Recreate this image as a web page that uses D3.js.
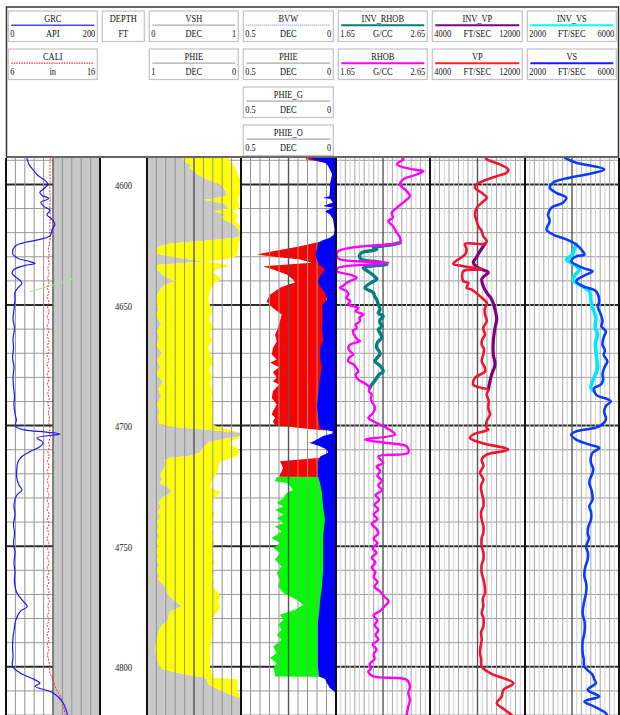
<!DOCTYPE html>
<html>
<head>
<meta charset="utf-8">
<script src="https://cdn.jsdelivr.net/npm/d3@7"></script>
<style>
  html, body { margin: 0; padding: 0; background: #fff; }
  svg { display: block; font-family: "Liberation Serif", "Times New Roman", serif; }
</style>
</head>
<body>
<svg id="log" width="620" height="715"></svg>
<script>
// ---------- curve headers ----------
const curveNames  = ["GRC", "CALI", "VSH", "PHIE", "BVW", "PHIE", "PHIE_G", "PHIE_O", "INV_RHOB", "RHOB", "INV_VP", "VP", "INV_VS", "VS"];
const curveUnits  = ["API", "in", "DEC", "DEC", "DEC", "DEC", "DEC", "DEC", "G/CC", "G/CC", "FT/SEC", "FT/SEC", "FT/SEC", "FT/SEC"];
const scaleLeft   = [0, 6, 0, 1, 0.5, 0.5, 0.5, 0.5, 1.65, 1.65, 4000, 4000, 2000, 2000];
const scaleRight  = [200, 16, 1, 0, 0, 0, 0, 0, 2.65, 2.65, 12000, 12000, 6000, 6000];

// ---------- depth ----------
const depthRange  = [4589.25, 4820.2];
const depthLabels = [4600, 4650, 4700, 4750, 4800];

// ---------- track 1 : gamma ray / caliper  [depth, value] ----------
const grc = [[4589.3,44],[4589.8,45],[4591.9,49],[4594.0,57],[4596.5,68],[4598.5,83],[4600.2,89],[4601.9,81],[4603.5,72],[4604.8,77],[4606.0,91],[4607.7,74],[4609.3,81],[4611.0,94],[4612.7,87],[4614.7,98],[4616.8,104],[4618.9,98],[4621.4,94],[4623.0,72],[4624.3,40],[4625.5,21],[4627.2,15],[4629.3,15],[4630.9,26],[4632.2,51],[4633.0,62],[4633.8,40],[4635.5,17],[4637.1,13],[4638.4,19],[4640.0,30],[4641.3,34],[4642.9,26],[4645.0,19],[4647.9,19],[4652,17],[4656,15],[4660,18],[4664,15],[4668,16],[4672,14],[4676,17],[4680,15],[4684,16],[4688,18],[4692,17],[4696,20],[4698,22],[4700.5,20],[4702.0,40],[4702.9,85],[4703.7,115],[4705.3,66],[4707.2,79],[4709,72],[4711,51],[4713,34],[4715,26],[4718,23],[4722,23],[4725,28],[4727,34],[4729,23],[4733,17],[4737,19],[4741,16],[4745,18],[4749,16],[4753,19],[4757,17],[4761,19],[4765,18],[4769.5,23],[4773.1,37],[4775.2,45],[4777.3,30],[4780.7,21],[4784,18],[4788,15],[4792,14],[4796,15],[4800,14],[4802.8,30],[4805,55],[4807,72],[4808.3,62],[4811,100],[4815,121],[4819.5,130],[4820.2,131]];

const cali = [[4589.3,10.7],[4594,10.68],[4598,10.7],[4602,10.66],[4606,10.7],[4610,10.67],[4614,10.7],[4618,10.66],[4622,10.68],[4625,10.62],[4627,10.5],[4629,10.6],[4631,10.48],[4633,10.6],[4635,10.45],[4637,10.58],[4639,10.44],[4641,10.56],[4643,10.42],[4645,10.55],[4647,10.4],[4649,10.55],[4651,10.42],[4653,10.58],[4655,10.4],[4657,10.55],[4659,10.38],[4661,10.55],[4663,10.4],[4665,10.57],[4667,10.42],[4669,10.58],[4671,10.4],[4673,10.55],[4675,10.38],[4677,10.56],[4679,10.4],[4681,10.55],[4683,10.42],[4685,10.58],[4687,10.44],[4689,10.6],[4691,10.45],[4693,10.6],[4695,10.5],[4697,10.62],[4699,10.55],[4701,10.68],[4703,10.62],[4705,10.7],[4707,10.55],[4709,10.62],[4711,10.45],[4713,10.6],[4715,10.42],[4717,10.58],[4719,10.4],[4721,10.56],[4723,10.38],[4725,10.55],[4727,10.4],[4729,10.57],[4731,10.38],[4733,10.55],[4735,10.4],[4737,10.56],[4739,10.42],[4741,10.58],[4743,10.4],[4745,10.55],[4747,10.38],[4749,10.56],[4751,10.4],[4753,10.57],[4755,10.42],[4757,10.58],[4759,10.4],[4761,10.55],[4763,10.38],[4765,10.56],[4767,10.4],[4769,10.58],[4771,10.44],[4773,10.6],[4775,10.45],[4777,10.58],[4779,10.42],[4781,10.56],[4783,10.4],[4785,10.55],[4787,10.38],[4789,10.55],[4791,10.4],[4793,10.56],[4795,10.42],[4797,10.5],[4799,10.6],[4801.4,10.62],[4803,10.7],[4805.6,11.0],[4807.5,11.15],[4809.8,11.4],[4813.1,11.85],[4816.7,12.1],[4820.2,12.3]];

// short correlation tie drawn on the gamma-ray scale
const tieLine = [[4644.7,51],[4639.1,149]];

// ---------- track 3 : shale volume / effective porosity ----------
const vsh = [[4589.2,0.38],[4589.8,0.39],[4591.1,0.41],[4592.3,0.48],[4593.2,0.44],[4594.4,0.49],[4596.1,0.54],[4597.7,0.62],[4599.4,0.72],[4601.0,0.80],[4603.1,0.84],[4604.8,0.85],[4606.0,0.72],[4606.6,0.60],[4607.3,0.72],[4608.5,0.84],[4610.2,0.86],[4611.4,0.71],[4612.7,0.84],[4613.9,0.78],[4615.6,0.86],[4617.6,0.95],[4620.1,0.99],[4622.2,0.97],[4623.4,0.67],[4624.7,0.24],[4625.9,0.12],[4627.2,0.10],[4628.8,0.11],[4630.1,0.24],[4631.3,0.46],[4632.2,0.62],[4633.0,0.30],[4633.6,0.10],[4635.5,0.10],[4637.6,0.16],[4639.2,0.24],[4640.5,0.29],[4641.7,0.19],[4643.8,0.14],[4645.9,0.11],[4648.8,0.10],[4652,0.12],[4655,0.10],[4658,0.15],[4661,0.11],[4664,0.13],[4667,0.10],[4670,0.16],[4673,0.11],[4676,0.14],[4679,0.10],[4682,0.17],[4685,0.12],[4688,0.15],[4691,0.11],[4694,0.13],[4697,0.12],[4699.2,0.13],[4700.5,0.20],[4701.8,0.60],[4703.2,1.0],[4704.5,1.0],[4705.5,0.85],[4707,0.66],[4708.5,0.62],[4710,0.58],[4711.5,0.56],[4712.8,0.45],[4713.5,0.25],[4714.5,0.18],[4716,0.20],[4718.5,0.17],[4720.5,0.14],[4722.6,0.16],[4724,0.13],[4725.7,0.22],[4727.7,0.27],[4729.8,0.17],[4732,0.12],[4734,0.15],[4736,0.11],[4738,0.14],[4740,0.10],[4742,0.13],[4744,0.10],[4746,0.13],[4748,0.10],[4750,0.12],[4752,0.09],[4754,0.12],[4756,0.10],[4758,0.13],[4760,0.10],[4762,0.13],[4764,0.12],[4766,0.17],[4768,0.20],[4770,0.22],[4772.4,0.28],[4775.2,0.37],[4777.3,0.24],[4779,0.23],[4780.7,0.22],[4783,0.16],[4784.8,0.13],[4787.7,0.11],[4791,0.09],[4794.4,0.09],[4796.5,0.10],[4798.5,0.12],[4801,0.15],[4803,0.35],[4804.5,0.60],[4805.5,0.64],[4807.5,0.65],[4810,0.78],[4812.2,0.92],[4813.3,1.0],[4820.3,1.0]];

const phie = [[4589.2,0.14],[4589.8,0.13],[4591.5,0.10],[4593.2,0.06],[4594.4,0.05],[4596.1,0.03],[4598.1,0.01],[4602,0.01],[4604.8,0.01],[4606.4,0.04],[4608.5,0.02],[4610.2,0.02],[4611.4,0.085],[4612.7,0.04],[4613.9,0.04],[4615.2,0.064],[4617.3,0.01],[4619,0.0],[4623,0.0],[4624.7,0.03],[4626,0.03],[4628.8,0.035],[4630,0.05],[4631.3,0.17],[4632.2,0.36],[4633.4,0.17],[4634.1,0.128],[4635.5,0.266],[4636.8,0.298],[4638.3,0.245],[4639.6,0.213],[4641.3,0.287],[4643.1,0.319],[4644.7,0.33],[4648,0.35],[4650,0.33],[4653,0.31],[4656,0.34],[4659,0.30],[4662,0.33],[4665,0.31],[4668,0.35],[4671,0.32],[4674,0.30],[4677,0.34],[4680,0.31],[4683,0.33],[4686,0.30],[4689,0.32],[4692,0.29],[4695,0.31],[4698,0.30],[4699.5,0.30],[4700.8,0.25],[4702,0.12],[4703.2,0.0],[4704.5,0.0],[4705.5,0.03],[4706.5,0.10],[4708,0.12],[4709.2,0.05],[4710.5,0.02],[4712.5,0.03],[4714,0.12],[4715,0.22],[4717,0.24],[4719,0.245],[4722.6,0.30],[4725.7,0.33],[4727.7,0.22],[4731,0.30],[4735,0.31],[4737,0.28],[4739,0.31],[4741,0.29],[4743,0.32],[4745,0.29],[4747,0.31],[4749,0.28],[4751,0.31],[4753,0.29],[4755,0.31],[4757,0.28],[4759,0.31],[4761,0.29],[4763,0.31],[4765,0.29],[4767,0.30],[4770.5,0.22],[4773,0.245],[4775.5,0.22],[4780,0.30],[4787,0.31],[4794,0.33],[4800.5,0.33],[4804.8,0.30],[4805.4,0.04],[4810,0.04],[4813.3,0.0],[4820.3,0.0]];

// ---------- track 4 : bulk volume water and hydrocarbon porosity ----------
const bvw = [[4589.2,0.13],[4589.8,0.128],[4591.2,0.058],[4592.5,0.042],[4594,0.032],[4596,0.021],[4598,0.026],[4600,0.032],[4603,0.032],[4605.1,0.035],[4605.7,0.068],[4606.3,0.03],[4607.7,0.016],[4609.2,0.068],[4609.9,0.016],[4611.3,0.058],[4612.7,0.032],[4614.5,0.016],[4617,0.011],[4619,0.008],[4621,0.011],[4622.3,0.032],[4623.5,0.074],[4624.6,0.095],[4627.2,0.10],[4629.3,0.11],[4631.3,0.10],[4633.4,0.089],[4635.5,0.058],[4638.2,0.084],[4640.3,0.095],[4642.4,0.084],[4645.1,0.058],[4648,0.047],[4650.5,0.074],[4655,0.07],[4660,0.074],[4665,0.068],[4668,0.084],[4672,0.084],[4676,0.074],[4680,0.084],[4684,0.089],[4688,0.095],[4692,0.10],[4696,0.095],[4699,0.089],[4701.5,0.084],[4702.6,0.016],[4703.5,0.02],[4704.5,0.068],[4706,0.10],[4707.4,0.137],[4708.8,0.084],[4710.2,0.047],[4711.5,0.042],[4713,0.084],[4715.7,0.095],[4718.5,0.095],[4721,0.095],[4724,0.084],[4728,0.074],[4734,0.068],[4739,0.058],[4746,0.068],[4752,0.068],[4760,0.068],[4767,0.074],[4773,0.084],[4778,0.089],[4782,0.095],[4790,0.095],[4800,0.095],[4804.2,0.089],[4805.3,0.058],[4807,0.047],[4809,0.032],[4810.8,0.005],[4812,0.0],[4820.3,0.0]];

const phieO = [[4589.2,0.16],[4589.8,0.158],[4591.2,0.06],[4592,0],[4623,0],[4623.4,0.03],[4624.0,0.084],[4625.8,0.189],[4627.9,0.332],[4629.3,0.417],[4630.0,0.347],[4631.3,0.189],[4632.7,0.128],[4634.1,0.383],[4635.5,0.332],[4637.6,0.259],[4639.6,0.226],[4641.0,0.216],[4641.7,0.25],[4643.1,0.295],[4645.9,0.347],[4648.6,0.365],[4651.4,0.332],[4654.1,0.286],[4656.9,0.295],[4659.7,0.305],[4662.5,0.321],[4665.2,0.312],[4668,0.332],[4670.7,0.338],[4672.8,0.312],[4674,0.347],[4676,0.30],[4678,0.332],[4680.4,0.312],[4681.8,0.332],[4683.2,0.30],[4686,0.332],[4688.8,0.338],[4691.5,0.312],[4694.3,0.332],[4695.6,0.338],[4697,0.32],[4698.4,0.332],[4700,0.321],[4701.2,0.19],[4702,0.09],[4702.3,0],[4706.5,0],[4707.2,0.155],[4707.8,0],[4712.5,0],[4713.3,0.05],[4714.3,0.189],[4715,0.295],[4716.4,0.286],[4717.7,0.279],[4719.2,0.286],[4720.5,0.295],[4721.4,0.30],[4721.5,0],[4820.3,0]];

const phieG = [[4589.2,0],[4721.4,0],[4721.5,0.312],[4723.3,0.321],[4724.0,0.259],[4725.4,0.242],[4726.8,0.225],[4728.1,0.259],[4730.2,0.277],[4732.3,0.312],[4733.7,0.277],[4735.1,0.321],[4737.1,0.277],[4738.5,0.312],[4740.6,0.277],[4742.0,0.321],[4744.1,0.286],[4746.8,0.338],[4748.9,0.295],[4751.0,0.33],[4753.0,0.295],[4755.8,0.321],[4758.6,0.286],[4761.3,0.312],[4764.1,0.295],[4766.9,0.304],[4769.6,0.277],[4772.4,0.207],[4774.5,0.172],[4776.6,0.216],[4778.6,0.295],[4780.7,0.277],[4782.8,0.304],[4784.9,0.286],[4787.0,0.312],[4789.0,0.286],[4791.8,0.33],[4794.5,0.312],[4796.6,0.347],[4798.7,0.312],[4800.8,0.33],[4802.8,0.321],[4804.2,0.321],[4804.4,0],[4820.3,0]];

// ---------- track 5 : bulk density ----------
const rhob = [[4589.2,2.36],[4589.8,2.366],[4591.9,2.296],[4594.0,2.469],[4594.7,2.579],[4596.1,2.509],[4598.1,2.366],[4600.2,2.331],[4603.0,2.402],[4605.1,2.437],[4607.1,2.384],[4609.9,2.296],[4612.0,2.243],[4614.0,2.256],[4615.4,2.206],[4617.5,2.256],[4620.2,2.296],[4622.3,2.331],[4624.4,2.331],[4625.1,2.19],[4626.5,1.80],[4627.9,1.674],[4630.0,1.657],[4631.3,1.693],[4632.7,2.206],[4633.4,2.01],[4634.8,1.674],[4636.2,1.657],[4637.6,1.80],[4638.9,1.87],[4640.3,1.80],[4641.0,1.764],[4642.4,1.72],[4643.1,1.693],[4644.5,1.764],[4645.9,1.781],[4647.2,1.76],[4648.6,1.80],[4650,1.78],[4651.4,1.887],[4652.8,1.86],[4654.1,1.94],[4655.5,1.90],[4656.9,1.905],[4658.3,1.86],[4659.7,1.87],[4661,1.83],[4663.2,1.852],[4664.5,1.88],[4665.2,1.905],[4666.6,1.80],[4668,1.781],[4669.4,1.80],[4670.7,1.834],[4672,1.79],[4673.5,1.781],[4674.9,1.84],[4675.6,1.852],[4677.7,1.887],[4679,1.86],[4680.4,1.87],[4681.5,1.90],[4683.2,1.977],[4684.6,2.01],[4686.0,2.00],[4687.3,2.03],[4688.8,2.02],[4690.1,2.03],[4692.9,2.065],[4695.6,2.03],[4697.0,1.994],[4698.4,2.047],[4699.8,2.118],[4701.2,2.19],[4703.9,2.278],[4706.0,1.958],[4707.4,2.19],[4708.8,2.402],[4711.5,2.419],[4713.0,2.10],[4715.7,2.153],[4717.1,2.083],[4719,2.12],[4721,2.09],[4723,2.14],[4725,2.10],[4727,2.14],[4729,2.07],[4731,2.11],[4733,2.06],[4735,2.10],[4737,2.05],[4739,2.09],[4741,2.03],[4743,2.08],[4745,2.10],[4747,2.05],[4749,2.09],[4751,2.04],[4753,2.08],[4755,2.03],[4757,2.07],[4759,2.03],[4761,2.07],[4763,2.05],[4765,2.09],[4767,2.06],[4769,2.12],[4771,2.16],[4773,2.21],[4775,2.17],[4777,2.12],[4779,2.05],[4781,2.09],[4783,2.06],[4785,2.10],[4787,2.07],[4789,2.10],[4791,2.04],[4793,2.08],[4795,2.05],[4797,2.06],[4799,2.01],[4801,2.02],[4802.2,1.994],[4804.2,2.047],[4805.6,2.402],[4808.4,2.437],[4811.1,2.419],[4813.9,2.437],[4816.7,2.419],[4820.2,2.402]];

// inverted density, where it departs from the measured curve
const invRhob = [[4624.4,2.331],[4625.1,2.25],[4626.5,2.047],[4627.2,2.083],[4628.5,1.923],[4630.0,1.90],[4631.3,1.92],[4632.4,2.118],[4633.4,2.19],[4634.0,2.05],[4634.8,1.94],[4636.0,1.98],[4636.8,2.01],[4638.3,2.06],[4639.6,2.083],[4640.8,2.03],[4641.7,1.994],[4643.1,1.958],[4645.1,2.047],[4646.5,2.06],[4647.9,2.083],[4650,2.10],[4652.1,2.118],[4653.5,2.10],[4654.9,2.153],[4656.3,2.12],[4657.6,2.118],[4659,2.14],[4660.4,2.10],[4661.8,2.12],[4663.8,2.136],[4665.8,2.09],[4668.0,2.083],[4669.4,2.11],[4670.7,2.118],[4672,2.09],[4673.5,2.065],[4675.5,2.12],[4677.7,2.153],[4679,2.11],[4680.4,2.083],[4681.8,2.06],[4683.2,2.03],[4684.6,2.01]];

// ---------- track 6 : compressional velocity ----------
const vp = [[4589.2,8700],[4589.8,8775],[4591.9,9895],[4594.0,10594],[4595.4,10459],[4596.8,9617],[4598.8,8488],[4600.2,7933],[4601.6,7789],[4603.7,8354],[4605.7,8775],[4607.8,8354],[4609.9,7933],[4612.7,7789],[4615.4,7933],[4617.5,8067],[4619.6,8354],[4621.7,8488],[4623.7,8775],[4624.8,8632],[4624.9,6947],[4627.2,7091],[4629.3,6947],[4633.1,5962],[4634.1,6804],[4635.5,8354],[4636.2,6804],[4640.3,6804],[4641.0,7225],[4643.1,7091],[4643.8,7511],[4647.2,8354],[4649.3,8775],[4652,8600],[4654.1,8632],[4656.9,8775],[4659.7,8488],[4662.5,8632],[4664.5,8400],[4666.6,8354],[4668.5,8550],[4670.7,8488],[4673.5,8354],[4676,8600],[4677.7,8632],[4680.4,7789],[4683.2,7646],[4684.6,8354],[4685.3,8909],[4687.3,8775],[4690,8950],[4692.9,8909],[4695.6,9053],[4698.4,8775],[4701.2,8775],[4701.9,8909],[4703.9,7646],[4705.3,7368],[4707.4,8354],[4710.2,10594],[4712.2,8775],[4714.3,8354],[4717,8500],[4719.8,8211],[4722.6,8488],[4725,8300],[4728.1,8354],[4731,8500],[4733.7,8488],[4736,8300],[4739.2,8354],[4742,8500],[4744.7,8488],[4747,8350],[4750.3,8354],[4753,8500],[4755.8,8488],[4758,8350],[4761.3,8354],[4765,8550],[4769.6,8632],[4772,8450],[4775.2,8488],[4777.9,8354],[4780,8500],[4783.5,8488],[4786,8300],[4789.0,8354],[4792,8250],[4794.5,8211],[4797,8300],[4800.1,8354],[4802.8,9053],[4807.0,11015],[4809.8,10173],[4812.5,10038],[4815.3,9617],[4818.1,10316],[4820.2,10880]];

const invVp = [[4624.8,8632],[4627.9,8211],[4630.5,7900],[4632.7,7646],[4634.8,8067],[4636.2,8775],[4636.8,8909],[4638.5,8500],[4639.6,8354],[4642.4,8488],[4645.1,8775],[4647.9,9196],[4652.1,9474],[4656.2,9617],[4659.7,9474],[4665.2,9331],[4670.7,9331],[4674.9,9474],[4679.0,9196],[4681.8,9053],[4685.3,8909]];

// ---------- track 7 : shear velocity ----------
const vs = [[4589.2,3700],[4589.8,3823],[4591.2,4177],[4594.0,5368],[4596.1,4598],[4597.4,3895],[4599.5,3191],[4601.6,3053],[4603.7,3335],[4605.7,3756],[4607.8,3612],[4609.9,3124],[4612.7,2981],[4615.4,3053],[4618.9,2914],[4621.0,3191],[4623.0,3756],[4625.1,4177],[4627.9,4455],[4629.3,4526],[4630.0,4177],[4632.0,3966],[4634.8,4455],[4636.2,4875],[4638.3,4455],[4640.3,4177],[4642.4,4455],[4644.5,5019],[4648.6,5158],[4651,5100],[4654.1,5229],[4657,5300],[4659,5250],[4661.1,5440],[4663.5,5350],[4666.6,5296],[4669,5400],[4671,5350],[4673.5,5507],[4676,5380],[4679.0,5296],[4681,5330],[4683.2,5229],[4684.6,4947],[4687.3,5019],[4690.1,5650],[4692,5450],[4694.3,5368],[4697.7,5440],[4700.5,5158],[4702.6,4177],[4703.9,3966],[4706.0,4177],[4708.1,4737],[4709.5,5158],[4711.5,4875],[4713.5,4800],[4715.7,4808],[4718,4900],[4719.8,4875],[4722,4780],[4724.0,4737],[4727,4830],[4730.9,4875],[4733.7,4737],[4736,4810],[4739.2,4808],[4742,4700],[4744.7,4665],[4747,4720],[4750.3,4598],[4753,4680],[4755.8,4665],[4759,4560],[4762.7,4526],[4766,4610],[4769.6,4598],[4773,4520],[4777.9,4455],[4782,4540],[4786.2,4526],[4790,4450],[4794.5,4455],[4797,4500],[4800.1,4526],[4803.5,4875],[4805.5,4950],[4807.0,5019],[4809.8,4665],[4812.5,5158],[4814.6,4526],[4816.7,4947],[4819.4,5440],[4820.2,5480]];

const invVs = [[4625.1,4177],[4627,4100],[4629.3,4033],[4631.3,3756],[4632.7,3966],[4635.5,4316],[4637.5,4150],[4639.6,4033],[4641.0,4177],[4644.5,4737],[4648.6,4808],[4652,4900],[4655.5,5019],[4659,4980],[4662.5,5086],[4666,5000],[4669.4,5019],[4673,5060],[4676.3,5086],[4679,5000],[4681.8,4875],[4684.6,4808],[4686.0,4947]];

// ================= drawing =================
const svg = d3.select("#log");
const TOP = 158, BOTTOM = 715;
const y = d3.scaleLinear().domain(depthRange).range([TOP, BOTTOM]);

// track extents (left, right)
const T = {
  gr:    [6, 100],
  depth: [100, 147],
  vsh:   [147, 241],
  bvw:   [241, 336],
  rhob:  [336, 430],
  vp:    [430, 525],
  vs:    [525, 619]
};

const sx = (i, t) => d3.scaleLinear().domain([scaleLeft[i], scaleRight[i]]).range(T[t]);
const xGR = sx(0, "gr"), xCALI = sx(1, "gr");
const xVSH = sx(2, "vsh"), xPHIE = sx(3, "vsh");
const xBVW = sx(4, "bvw"), xPHIE4 = sx(5, "bvw"), xPHIEG = sx(6, "bvw"), xPHIEO = sx(7, "bvw");
const xINVRHOB = sx(8, "rhob"), xRHOB = sx(9, "rhob");
const xINVVP = sx(10, "vp"), xVP = sx(11, "vp");
const xINVVS = sx(12, "vs"), xVS = sx(13, "vs");

const defs = svg.append("defs");
function layer(key) {
  const [x0, x1] = T[key];
  defs.append("clipPath").attr("id", "clip-" + key)
    .append("rect").attr("x", x0).attr("y", TOP).attr("width", x1 - x0).attr("height", BOTTOM - TOP);
  return svg.append("g").attr("clip-path", `url(#clip-${key})`);
}

function hGrid(g, key) {
  const [x0, x1] = T[key];
  const axis = d3.axisLeft(y).tickValues(d3.range(4590, 4821, 10)).tickSize(-(x1 - x0)).tickFormat("");
  g.append("g").attr("transform", `translate(${x0},0)`).call(axis)
    .call(s => s.select(".domain").remove())
    .call(s => s.selectAll(".tick line")
      .attr("stroke", d => d % 50 === 0 ? "#2a2a2a" : "#9a9a9a")
      .attr("stroke-width", d => d % 50 === 0 ? 2 : 1));
}

function vGrid(g, key, divisions) {
  const [x0, x1] = T[key];
  const gx = d3.scaleLinear().domain([0, divisions]).range([x0, x1]);
  const idx = d3.range(1, divisions);
  g.append("g").selectAll("line").data(idx).join("line")
    .attr("x1", i => gx(i)).attr("x2", i => gx(i))
    .attr("y1", TOP).attr("y2", BOTTOM)
    .attr("stroke", i => {
      if (i === divisions / 2) return "#555";
      if (divisions === 20) return i % 2 ? "#d2d2d2" : "#a6a6a6";
      return "#939393";
    })
    .attr("stroke-width", i => i === divisions / 2 ? 1.4 : 1);
}

const lineOf = (xs, curve) => d3.line().x(d => xs(d[1])).y(d => y(d[0])).curve(curve || d3.curveLinear);
const areaFromEdge = (xs, edge) => d3.area().y(d => y(d[0])).x0(edge).x1(d => xs(d[1]));
const smooth = d3.curveCatmullRom.alpha(0.5);

// ---- track 1 : GRC / CALI ----
{
  const g = layer("gr");
  const [x0, x1] = T.gr;
  g.append("rect").attr("x", x0).attr("y", TOP).attr("width", x1 - x0).attr("height", BOTTOM - TOP).attr("fill", "#fff");
  hGrid(g, "gr");
  const mid = (x0 + x1) / 2;
  g.append("rect").attr("x", mid).attr("y", TOP).attr("width", x1 - mid).attr("height", BOTTOM - TOP).attr("fill", "#c8c8c8");
  vGrid(g, "gr", 10);
  g.append("path").datum(tieLine).attr("d", lineOf(xGR)).attr("fill", "none").attr("stroke", "#9be89b").attr("stroke-width", 1);
  g.append("path").datum(cali).attr("d", lineOf(xCALI, smooth)).attr("fill", "none")
    .attr("stroke", "#ff2a2a").attr("stroke-width", 1).attr("stroke-dasharray", "2,1.2");
  g.append("path").datum(grc).attr("d", lineOf(xGR, smooth)).attr("fill", "none")
    .attr("stroke", "#1a1aff").attr("stroke-width", 1.2);
}

// ---- depth track ----
{
  const g = svg.append("g");
  const [x0, x1] = T.depth;
  g.append("rect").attr("x", x0).attr("y", TOP).attr("width", x1 - x0).attr("height", BOTTOM - TOP).attr("fill", "#fff");
  const axis = d3.axisRight(y).tickValues(depthLabels).tickSize(0).tickPadding(0).tickFormat(d3.format("d"));
  g.append("g").attr("transform", `translate(${(x0 + x1) / 2},0)`).call(axis)
    .call(s => s.select(".domain").remove())
    .call(s => s.selectAll(".tick text")
      .attr("x", 0).attr("dy", "0.42em").attr("text-anchor", "middle")
      .attr("transform", "scale(0.78,1)")
      .attr("font-family", "Liberation Serif, Times New Roman, serif")
      .attr("font-size", 11).attr("fill", "#222"));
}

// ---- track 3 : VSH / PHIE ----
{
  const g = layer("vsh");
  const [x0, x1] = T.vsh;
  g.append("rect").attr("x", x0).attr("y", TOP).attr("width", x1 - x0).attr("height", BOTTOM - TOP).attr("fill", "#fff");
  hGrid(g, "vsh");
  g.append("path").datum(vsh).attr("d", areaFromEdge(xVSH, x0)).attr("fill", "#c8c8c8");
  const poly = vsh.map(d => [xVSH(d[1]), y(d[0])]).concat(phie.slice().reverse().map(d => [xPHIE(d[1]), y(d[0])]));
  g.append("path").attr("d", d3.line()(poly) + "Z").attr("fill", "#ffff00");
  vGrid(g, "vsh", 10);
}

// ---- track 4 : BVW / PHIE_G / PHIE_O ----
{
  const g = layer("bvw");
  const [x0, x1] = T.bvw;
  g.append("rect").attr("x", x0).attr("y", TOP).attr("width", x1 - x0).attr("height", BOTTOM - TOP).attr("fill", "#fff");
  hGrid(g, "bvw");
  g.append("path").datum(phieG).attr("d", areaFromEdge(xPHIEG, x1)).attr("fill", "#00ff00");
  g.append("path").datum(phieO).attr("d", areaFromEdge(xPHIEO, x1)).attr("fill", "#ff0000");
  vGrid(g, "bvw", 10);
  g.append("path").datum(bvw).attr("d", areaFromEdge(xBVW, x1)).attr("fill", "#0000ff");
}

// ---- tracks 5–7 : measured and inverted elastic logs ----
function curveTrack(key, pairs) {
  const g = layer(key);
  const [x0, x1] = T[key];
  g.append("rect").attr("x", x0).attr("y", TOP).attr("width", x1 - x0).attr("height", BOTTOM - TOP).attr("fill", "#fff");
  hGrid(g, key);
  vGrid(g, key, 20);
  pairs.forEach(p => {
    g.append("path").datum(p.data).attr("d", lineOf(p.x, smooth)).attr("fill", "none")
      .attr("stroke", p.color).attr("stroke-width", p.w)
      .attr("stroke-linejoin", "round").attr("stroke-linecap", "round");
  });
}
curveTrack("rhob", [
  { data: invRhob, x: xINVRHOB, color: "#008080", w: 3.4 },
  { data: rhob, x: xRHOB, color: "#ff00ff", w: 2.4 }
]);
curveTrack("vp", [
  { data: invVp, x: xINVVP, color: "#800080", w: 3.2 },
  { data: vp, x: xVP, color: "#ee1530", w: 2.6 }
]);
curveTrack("vs", [
  { data: invVs, x: xINVVS, color: "#00e8ff", w: 3.6 },
  { data: vs, x: xVS, color: "#0a3cff", w: 2.6 }
]);

// ---- track borders ----
const borders = [6, 100, 147, 241, 336, 430, 525, 619];
svg.append("g").selectAll("line").data(borders).join("line")
  .attr("x1", d => d).attr("x2", d => d).attr("y1", TOP).attr("y2", BOTTOM)
  .attr("stroke", "#111").attr("stroke-width", 2);

// ================= header =================
const head = svg.append("g");
head.append("rect").attr("x", 6.5).attr("y", 7).attr("width", 612).attr("height", 150)
  .attr("fill", "#fff").attr("stroke", "#333").attr("stroke-width", 1.5);

function label(g, x, yy, text, anchor) {
  g.append("text").attr("transform", `translate(${x},${yy}) scale(0.8,1)`)
    .attr("text-anchor", anchor).attr("font-size", 10.5).attr("fill", "#111").text(text);
}

function box(key, row, title, unit, lo, hi, line) {
  const [x0, x1] = T[key];
  const bx = x0 + 2.3, bw = x1 - x0 - 5, by = 11 + row * 38, bh = 30.5;
  const g = head.append("g");
  g.append("rect").attr("x", bx).attr("y", by).attr("width", bw).attr("height", bh)
    .attr("fill", "#fff").attr("stroke", "#c2c2c2").attr("stroke-width", 1.2);
  label(g, bx + bw / 2, by + 10.8, title, "middle");
  if (line) {
    g.append("line").attr("x1", bx + 3).attr("x2", bx + bw - 3).attr("y1", by + 14.2).attr("y2", by + 14.2)
      .attr("stroke", line.color).attr("stroke-width", line.w || 1.6)
      .attr("stroke-dasharray", line.dash || null);
  }
  label(g, bx + bw / 2, by + 26.3, unit, "middle");
  if (lo !== null) label(g, bx + 2, by + 26.3, String(lo), "start");
  if (hi !== null) label(g, bx + bw - 2, by + 26.3, String(hi), "end");
}

const headerLayout = [
  { i: 0, key: "gr", row: 0, line: { color: "#4646ff", w: 1.6 } },
  { i: 1, key: "gr", row: 1, line: { color: "#ff3030", w: 1.2, dash: "1.5,1" } },
  { i: 2, key: "vsh", row: 0, line: { color: "#aaaaaa", w: 1.2 } },
  { i: 3, key: "vsh", row: 1, line: { color: "#aaaaaa", w: 1.2 } },
  { i: 4, key: "bvw", row: 0, line: { color: "#8c8cff", w: 1.2, dash: "1,1" } },
  { i: 5, key: "bvw", row: 1, line: { color: "#aaaaaa", w: 1.2 } },
  { i: 6, key: "bvw", row: 2, line: { color: "#aaaaaa", w: 1.2 } },
  { i: 7, key: "bvw", row: 3, line: { color: "#aaaaaa", w: 1.2 } },
  { i: 8, key: "rhob", row: 0, line: { color: "#008080", w: 2 } },
  { i: 9, key: "rhob", row: 1, line: { color: "#ff00ff", w: 2 } },
  { i: 10, key: "vp", row: 0, line: { color: "#800080", w: 2 } },
  { i: 11, key: "vp", row: 1, line: { color: "#ff2020", w: 2 } },
  { i: 12, key: "vs", row: 0, line: { color: "#00ffff", w: 2 } },
  { i: 13, key: "vs", row: 1, line: { color: "#1a1aff", w: 2 } }
];
headerLayout.forEach(h => box(h.key, h.row, curveNames[h.i], curveUnits[h.i], scaleLeft[h.i], scaleRight[h.i], h.line));
box("depth", 0, "DEPTH", "FT", null, null, null);
</script>
</body>
</html>
